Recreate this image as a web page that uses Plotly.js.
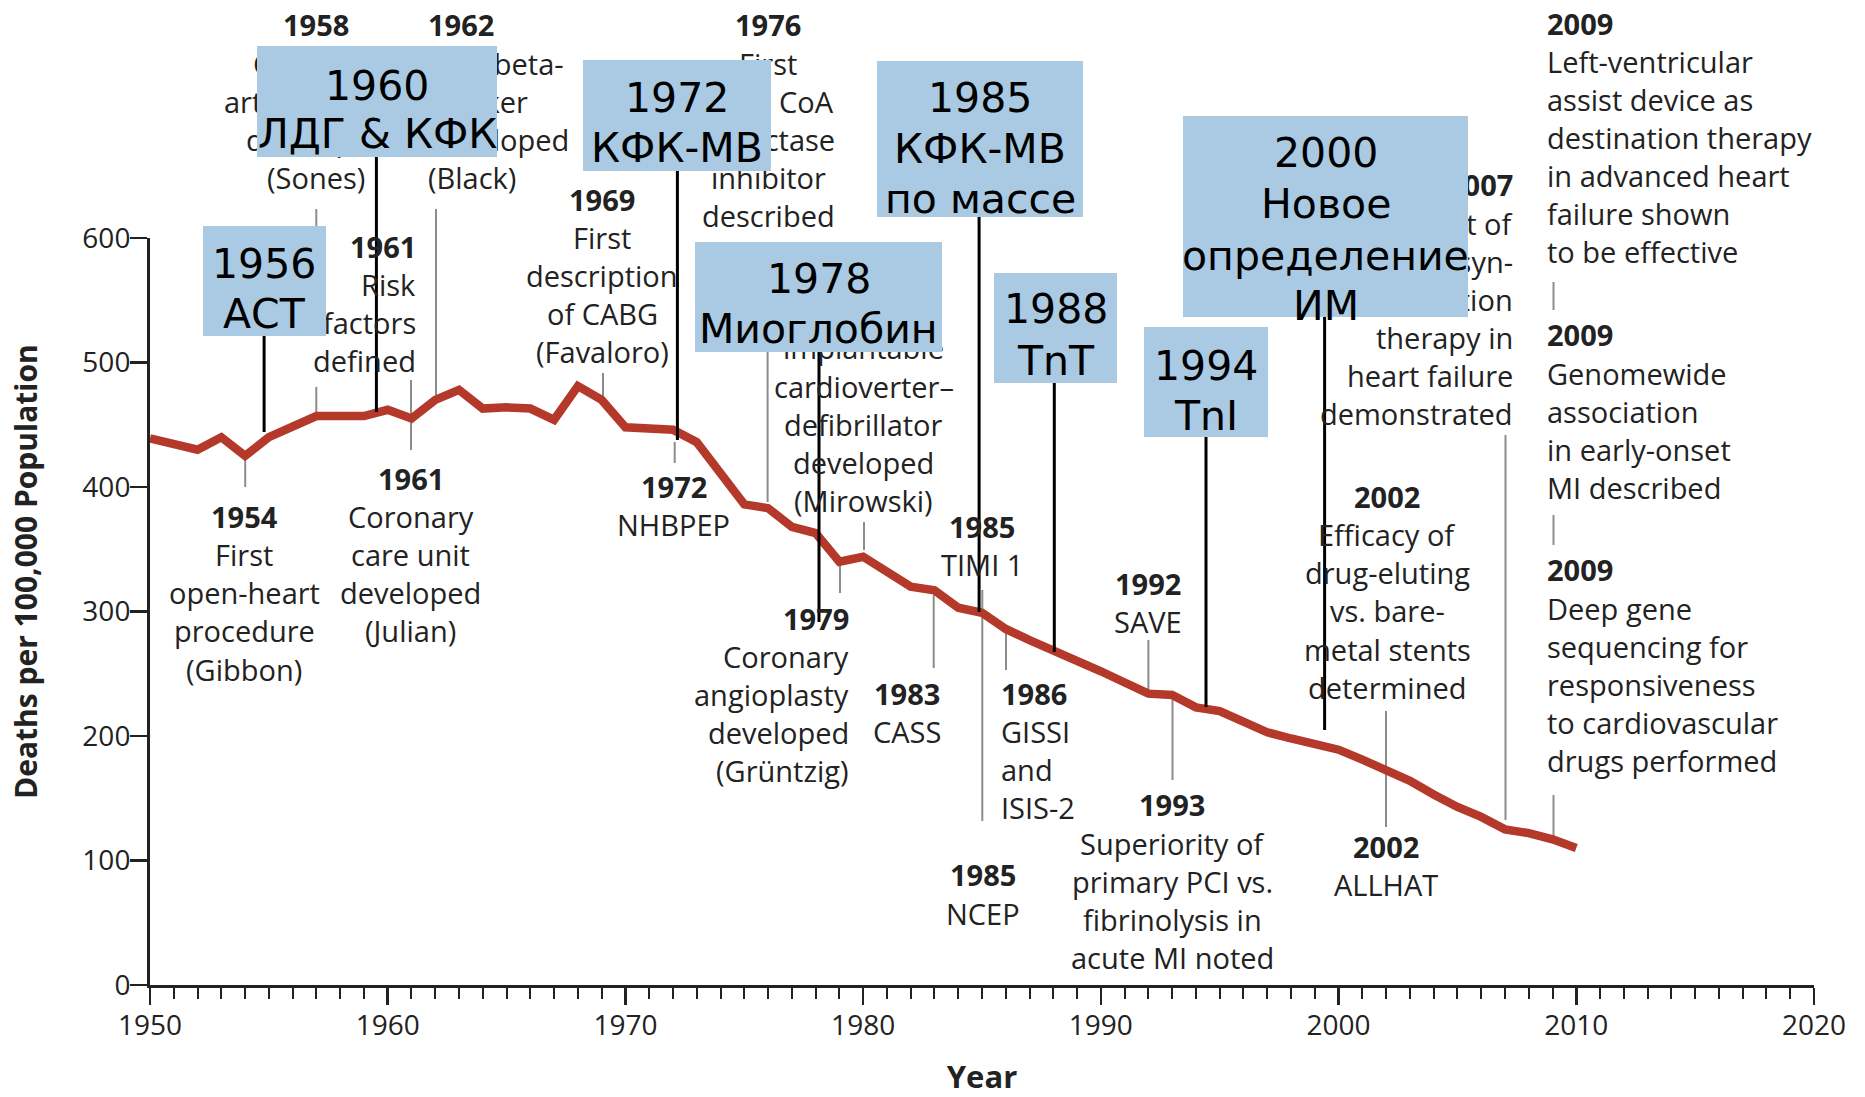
<!DOCTYPE html>
<html>
<head>
<meta charset="utf-8">
<script src="https://cdn.plot.ly/plotly-3.0.1.min.js"></script>
<style>html,body{margin:0;padding:0;background:#fff;}</style>
</head>
<body>
<div id="chart" style="width:1865px;height:1097px;"></div>
<script>
// ---------------- data ----------------
const years = [1950,1951,1952,1953,1954,1955,1956,1957,1958,1959,
  1960,1961,1962,1963,1964,1965,1966,1967,1968,1969,
  1970,1971,1972,1973,1974,1975,1976,1977,1978,1979,
  1980,1981,1982,1983,1984,1985,1986,1987,1988,1989,
  1990,1991,1992,1993,1994,1995,1996,1997,1998,1999,
  2000,2001,2002,2003,2004,2005,2006,2007,2008,2009,2010];
const deaths = [439,435,430,440,425,440,448,457,457,457,
  462,455,470,478,463,464,463,454,481,470,
  448,447,446,436,412,386,383,368,363,340,
  344,331,320,317,303,299,286,277,269,261,
  252,243,234,233,223,220,211,203,198,194,
  189,181,172,164,153,143,135,125,122,117,110];

const xTickVals = [1950,1960,1970,1980,1990,2000,2010,2020];
const xTickText = ['1950','1960','1970','1980','1990','2000','2010','2020'];
const yTickVals = [0,100,200,300,400,500,600];
const yTickText = ['0','100','200','300','400','500','600'];

// milestone captions of the original figure
const milestoneText = [
  ['1958','Coronary','arteriography','developed','(Sones)'],
  ['1962','First beta-','blocker','developed','(Black)'],
  ['1961','Risk','factors','defined'],
  ['1969','First','description','of CABG','(Favaloro)'],
  ['1976','First','HMG CoA','reductase','inhibitor','described','(Endo)'],
  ['1980','First','implantable','cardioverter–','defibrillator','developed','(Mirowski)'],
  ['1954','First','open-heart','procedure','(Gibbon)'],
  ['1961','Coronary','care unit','developed','(Julian)'],
  ['1972','NHBPEP'],
  ['1979','Coronary','angioplasty','developed','(Grüntzig)'],
  ['1983','CASS'],
  ['1985','TIMI 1'],
  ['1986','GISSI','and','ISIS-2'],
  ['1985','NCEP'],
  ['1992','SAVE'],
  ['1993','Superiority of','primary PCI vs.','fibrinolysis in','acute MI noted'],
  ['2002','Efficacy of','drug-eluting','vs. bare-','metal stents','determined'],
  ['2002','ALLHAT'],
  ['2007','Benefit of','cardiac resyn-','chronization','therapy in','heart failure','demonstrated'],
  ['2009','Left-ventricular','assist device as','destination therapy','in advanced heart','failure shown','to be effective'],
  ['2009','Genomewide','association','in early-onset','MI described'],
  ['2009','Deep gene','sequencing for','responsiveness','to cardiovascular','drugs performed']
];

// biomarker overlay boxes
const markerYear = ['1956','1960','1972','1978','1985','1988','1994','2000'];
const markerText = [['АСТ'],['ЛДГ &amp; КФК'],['КФК-МВ'],['Миоглобин'],['КФК-МВ','по массе'],['TnT'],['TnI'],['Новое','определение','ИМ']];

// ---------------- layout geometry (pixels of the 1865x1097 frame) ----------------
const W = 1865, H = 1097;
const M = {l:150, r:51, t:238, b:112};
const PW = W - M.l - M.r, PH = H - M.t - M.b;
const px2x = px => (px - M.l) / PW;
const px2y = py => (H - M.b - py) / PH;

// [anchor, x, first baseline]
const milestonePos = [
  ['center',316,35],['left',428,35],['right',416,256.7],['center',602,209.5],
  ['center',768,35],['center',863.5,281.8],['center',244,526.7],['center',410.5,488.3],
  ['center',673.7,496.7],['right',848.5,628.3],['center',906.5,703.3],['center',982,536.7],
  ['left',1001,703.3],['center',983,885],['center',1148,593.3],['center',1172,815],
  ['center',1387,506.7],['center',1385.5,856.7],['right',1512.5,195],
  ['left',1546.7,33.3],['left',1546.7,345],['left',1546.7,580]
];
const lineStep = 38.1;
// gray connectors [x, y0, y1]
const connectors = [
  [245.2,460,487],[316.3,209,227],[316.3,387,413],[411,380,450],[436,209,398],
  [603,373,405],[674.7,442,463],[767.6,300,502],[864,522,550],[840,565,593],
  [933.7,595,668],[982.3,590,821],[1006,633,670],[1148.4,640,692],[1172.5,698,780],
  [1386,711,827],[1505.5,435,820],[1553.5,282,310],[1553.5,515,545],[1553.5,795,836]
];
// overlay box [x0,x1,y0,y1], line baselines, black pointer [x, yEnd]
const boxGeom = [
  [203,325.5,226,336],[257,497,46,157],[583,770.5,60,171],[695,942,242,352],
  [877,1083,61,217],[994,1117,273,383],[1144,1268,327,437],[1183,1468,116,317]
];
const boxBase = [
  [278,328],[100,148.3],[111.7,161.7],[293.3,343.3],
  [111.7,163.3,213.3],[323.3,375],[380,430],[166.7,218.3,270,320]
];
const pointer = [
  [264.1,432],[376.4,412],[677.4,440],[819,622],[979.1,612],[1054.3,652],[1206,707],[1324.6,730]
];

const TXT = '#222';
const capF = 29, capAsc = 1.069, capAdj = 1.5;   // Open Sans
const boxF = 41, boxAsc = 0.928;   // DejaVu Sans
const BOXC = '#a9cae2';

const annotations = [];
milestoneText.forEach((lines, i) => {
  const [anc, x, b1] = milestonePos[i];
  lines.forEach((t, k) => {
    const b = b1 + k * lineStep + capAdj;
    annotations.push({
      xref:'paper', yref:'paper', x:px2x(x), y:px2y(b - capAsc*capF),
      xanchor:anc, yanchor:'top', showarrow:false, borderpad:0, borderwidth:0,
      text: k === 0 ? '<b>' + t + '</b>' : t,
      font:{family:'Open Sans', size:capF, color:TXT}
    });
  });
});
boxGeom.forEach((g, i) => {
  annotations.push({
    xref:'paper', yref:'paper', x:px2x(g[0]), y:px2y(g[2]),
    xanchor:'left', yanchor:'top', width:g[1]-g[0], height:g[3]-g[2],
    bgcolor:BOXC, borderpad:0, borderwidth:0, showarrow:false, text:' ',
    font:{family:'DejaVu Sans', size:10, color:BOXC}
  });
});
boxGeom.forEach((g, i) => {
  const cx = (g[0] + g[1]) / 2;
  const lines = [markerYear[i]].concat(markerText[i]);
  lines.forEach((t, k) => {
    annotations.push({
      xref:'paper', yref:'paper', x:px2x(cx), y:px2y(boxBase[i][k] - boxAsc*boxF),
      xanchor:'center', yanchor:'top', showarrow:false, borderpad:0, borderwidth:0,
      text:t, font:{family:'DejaVu Sans', size:boxF, color:'#000'}
    });
  });
});
annotations.push({
  xref:'paper', yref:'paper', x:px2x(25), y:px2y(572), xanchor:'center', yanchor:'middle',
  textangle:-90, showarrow:false, text:'<b>Deaths per 100,000 Population</b>',
  font:{family:'Open Sans', size:30, color:TXT}
});

const shapes = [];
connectors.forEach(c => shapes.push({
  type:'line', xref:'paper', yref:'paper', layer:'below',
  x0:px2x(c[0]), x1:px2x(c[0]), y0:px2y(c[1]), y1:px2y(c[2]),
  line:{color:'#8c8c8c', width:2}
}));
pointer.forEach((p, i) => shapes.push({
  type:'line', xref:'paper', yref:'paper', layer:'above',
  x0:px2x(p[0]), x1:px2x(p[0]), y0:px2y(boxGeom[i][3]), y1:px2y(p[1]),
  line:{color:'#000', width:3}
}));

const trace = {
  x: years, y: deaths, type:'scatter', mode:'lines',
  line:{color:'#b5392b', width:8.5}, hoverinfo:'skip'
};

const axisFont = {family:'Open Sans', size:28, color:TXT};
const layout = {
  width:W, height:H, margin:M, showlegend:false,
  paper_bgcolor:'#fff', plot_bgcolor:'#fff',
  font:{family:'Open Sans', color:TXT},
  xaxis:{
    range:[1950,2020], tickmode:'array', tickvals:xTickVals, ticktext:xTickText,
    ticks:'outside', ticklen:17, tickwidth:2.5, tickcolor:'#222',
    showline:true, linecolor:'#222', linewidth:3, showgrid:false, zeroline:false,
    tickfont:axisFont, ticklabelstandoff:-4,
    minor:{dtick:1, tick0:1950, ticks:'outside', ticklen:11, tickwidth:2, tickcolor:'#222', showgrid:false},
    title:{text:'<b>Year</b>', font:{family:'Open Sans', size:31, color:TXT}, standoff:35}
  },
  yaxis:{
    range:[0,600], tickmode:'array', tickvals:yTickVals, ticktext:yTickText,
    ticks:'outside', ticklen:17, tickwidth:2.5, tickcolor:'#222',
    showline:true, linecolor:'#222', linewidth:3, showgrid:false, zeroline:false,
    tickfont:axisFont, ticklabelstandoff:-6
  },
  annotations: annotations,
  shapes: shapes
};

Plotly.newPlot('chart', [trace], layout, {displayModeBar:false, staticPlot:true});
</script>
</body>
</html>
